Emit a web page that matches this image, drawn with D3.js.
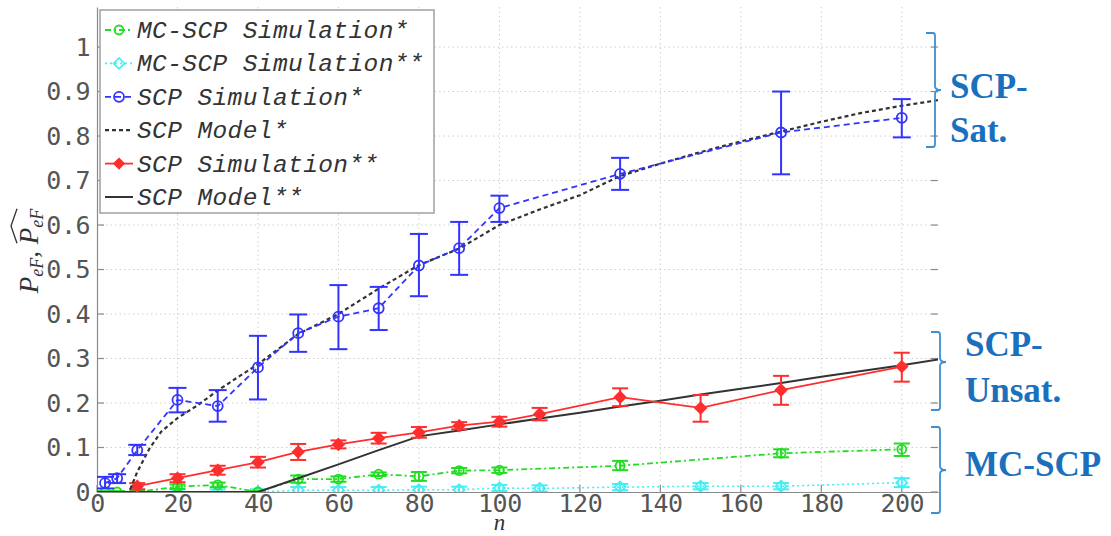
<!DOCTYPE html>
<html>
<head>
<meta charset="utf-8">
<script src="https://cdn.jsdelivr.net/npm/d3@7"></script>
<style>
  html, body { margin: 0; padding: 0; background: #fff; }
  svg { display: block; }
</style>
</head>
<body>
<svg id="chart" width="1111" height="536"></svg>
<script>
// ---- data ----
const xTicks = [0, 20, 40, 60, 80, 100, 120, 140, 160, 180, 200];
const yTicks = [0, 0.1, 0.2, 0.3, 0.4, 0.5, 0.6, 0.7, 0.8, 0.9, 1];
const yTickLabels = ["0", "0.1", "0.2", "0.3", "0.4", "0.5", "0.6", "0.7", "0.8", "0.9", "1"];

// MC-SCP Simulation*
const mcSatN  = [2, 5, 10, 20, 30, 40, 50, 60, 70, 80, 90, 100, 130, 170, 200];
const mcSatV  = [0, 0, 0, 0.012, 0.016, 0, 0.029, 0.029, 0.040, 0.035, 0.048, 0.049, 0.059, 0.087, 0.096];
const mcSatLo = [0, 0, 0, 0.007, 0.011, 0, 0.021, 0.023, 0.036, 0.025, 0.042, 0.043, 0.049, 0.078, 0.081];
const mcSatHi = [0.002, 0.002, 0.002, 0.017, 0.021, 0.002, 0.037, 0.035, 0.044, 0.045, 0.054, 0.055, 0.070, 0.096, 0.109];

// MC-SCP Simulation**
const mcUnsN  = [10, 20, 30, 40, 50, 60, 70, 80, 90, 100, 110, 130, 150, 170, 200];
const mcUnsV  = [0, 0, 0, 0, 0.004, 0.004, 0.004, 0.005, 0.005, 0.009, 0.008, 0.011, 0.013, 0.013, 0.021];
const mcUnsLo = [-0.006, -0.006, -0.006, -0.006, -0.003, -0.003, -0.003, -0.002, -0.002, 0.002, 0.001, 0.004, 0.006, 0.006, 0.011];
const mcUnsHi = [0.006, 0.006, 0.006, 0.006, 0.011, 0.011, 0.011, 0.012, 0.012, 0.016, 0.015, 0.018, 0.020, 0.020, 0.031];

// SCP Simulation*
const scpSatN  = [2, 5, 10, 20, 30, 40, 50, 60, 70, 80, 90, 100, 130, 170, 200];
const scpSatV  = [0.020, 0.031, 0.094, 0.207, 0.193, 0.280, 0.357, 0.394, 0.413, 0.509, 0.548, 0.638, 0.715, 0.808, 0.841];
const scpSatLo = [0.008, 0.020, 0.083, 0.179, 0.158, 0.208, 0.315, 0.321, 0.364, 0.440, 0.488, 0.607, 0.679, 0.714, 0.797];
const scpSatHi = [0.034, 0.040, 0.106, 0.234, 0.229, 0.351, 0.399, 0.465, 0.461, 0.580, 0.607, 0.666, 0.751, 0.900, 0.883];

// SCP Model*
const modelSatN = [0, 8, 10, 13, 16, 20, 25, 30, 35, 40, 50, 60, 70, 80, 90, 100, 110, 120, 130, 140, 150, 160, 170, 180, 190, 200, 210];
const modelSatV = [0, 0, 0.045, 0.097, 0.136, 0.166, 0.195, 0.228, 0.258, 0.287, 0.355, 0.400, 0.457, 0.510, 0.547, 0.600, 0.635, 0.667, 0.710, 0.738, 0.764, 0.788, 0.810, 0.832, 0.852, 0.868, 0.882];

// SCP Simulation**
const scpUnsN  = [10, 20, 30, 40, 50, 60, 70, 80, 90, 100, 110, 130, 150, 170, 200];
const scpUnsV  = [0.013, 0.031, 0.049, 0.067, 0.090, 0.107, 0.121, 0.134, 0.149, 0.158, 0.175, 0.213, 0.189, 0.229, 0.282];
const scpUnsLo = [0.006, 0.022, 0.039, 0.055, 0.072, 0.098, 0.109, 0.122, 0.141, 0.147, 0.161, 0.193, 0.158, 0.196, 0.248];
const scpUnsHi = [0.020, 0.040, 0.059, 0.079, 0.108, 0.116, 0.133, 0.146, 0.157, 0.169, 0.189, 0.233, 0.218, 0.261, 0.313];

// SCP Model**
const modelUnsN = [0, 10, 20, 30, 40, 50, 60, 70, 80, 90, 100, 110, 120, 130, 140, 150, 160, 170, 180, 190, 200, 210];
const modelUnsV = [0, 0, 0, 0, 0, 0.031, 0.062, 0.094, 0.125, 0.138, 0.152, 0.165, 0.178, 0.192, 0.205, 0.219, 0.232, 0.245, 0.259, 0.272, 0.285, 0.299];

const legendLabels = ["MC-SCP Simulation*", "MC-SCP Simulation**", "SCP Simulation*", "SCP Model*", "SCP Simulation**", "SCP Model**"];
const bracketLabels = [["SCP-", "Sat."], ["SCP-", "Unsat."], ["MC-SCP"]];

// ---- layout ----
const svg = d3.select("#chart");
const plot = { left: 97, right: 938, top: 7, bottom: 492 };
const x = d3.scaleLinear().domain([0, 209]).range([plot.left, plot.right]);
const y = d3.scaleLinear().domain([0, 1.09]).range([plot.bottom, plot.top]);

const C = {
  green: "#22dd22",
  cyan: "#44eef4",
  blue: "#3333ff",
  red: "#ff2e2e",
  dark: "#333333",
  axis: "#8a8a8a",
  grid: "#cfcfcf",
  tick: "#555555",
  note: "#1a70bd",
  bracket: "#3d8fd2"
};

svg.append("defs").append("clipPath").attr("id", "plotclip")
  .append("rect")
  .attr("x", plot.left).attr("y", plot.top)
  .attr("width", plot.right - plot.left).attr("height", plot.bottom - plot.top);

// grid
const grid = svg.append("g");
grid.selectAll("line.gx").data(xTicks.slice(1)).join("line")
  .attr("x1", d => x(d)).attr("x2", d => x(d))
  .attr("y1", plot.top).attr("y2", plot.bottom)
  .attr("stroke", C.grid).attr("stroke-width", 1).attr("stroke-dasharray", "1.5,3");
grid.selectAll("line.gy").data(yTicks.slice(1)).join("line")
  .attr("x1", plot.left).attr("x2", plot.right)
  .attr("y1", d => y(d)).attr("y2", d => y(d))
  .attr("stroke", C.grid).attr("stroke-width", 1).attr("stroke-dasharray", "1.5,3");

// axes
const xAxis = d3.axisBottom(x).tickValues(xTicks).tickSize(0).tickPadding(5).tickFormat(d3.format("d"));
const gx = svg.append("g").attr("transform", `translate(0,${plot.bottom})`).call(xAxis);
gx.select(".domain").attr("stroke", C.axis).attr("stroke-width", 1.2);
gx.selectAll("text").attr("font-family", "DejaVu Sans Mono").attr("font-size", 25)
  .attr("fill", C.tick).attr("dy", "0.6em").attr("letter-spacing", "-0.5");

const yAxis = d3.axisLeft(y).tickValues(yTicks).tickSize(0).tickPadding(7).tickFormat((d, i) => yTickLabels[i]);
const gy = svg.append("g").attr("transform", `translate(${plot.left},0)`).call(yAxis);
gy.select(".domain").attr("stroke", C.axis).attr("stroke-width", 1.2);
gy.selectAll("text").attr("font-family", "DejaVu Sans Mono").attr("font-size", 25)
  .attr("fill", C.tick).attr("letter-spacing", "-0.5");

// inward tick marks on all sides
const tk = svg.append("g").attr("stroke", C.axis).attr("stroke-width", 1.2);
tk.selectAll("line.yl").data(yTicks).join("line")
  .attr("x1", plot.left).attr("x2", plot.left + 7)
  .attr("y1", d => y(d)).attr("y2", d => y(d));
tk.selectAll("line.yr").data(yTicks).join("line")
  .attr("x1", plot.right - 7).attr("x2", plot.right)
  .attr("y1", d => y(d)).attr("y2", d => y(d));
tk.selectAll("line.xb").data(xTicks).join("line")
  .attr("x1", d => x(d)).attr("x2", d => x(d))
  .attr("y1", plot.bottom).attr("y2", plot.bottom - 7);

// axis titles
svg.append("text")
  .attr("x", x(100)).attr("y", 530)
  .attr("text-anchor", "middle")
  .attr("font-family", "Liberation Serif").attr("font-style", "italic")
  .attr("font-size", 23).attr("fill", C.dark)
  .text("n");

const yl = svg.append("g").attr("transform", "translate(38,251) rotate(-90)");
const ylText = yl.append("text")
  .attr("text-anchor", "middle")
  .attr("font-family", "Liberation Serif").attr("font-style", "italic")
  .attr("font-size", 27).attr("fill", C.dark);
ylText.append("tspan").text("P");
ylText.append("tspan").attr("font-size", 18).attr("dy", 5).text("eF");
ylText.append("tspan").attr("dy", -5).text(", ");
ylText.append("tspan").text("P");
ylText.append("tspan").attr("font-size", 18).attr("dy", 5).text("eF");
// wide hat over the estimate symbol
{
  const n0 = ylText.node();
  const chars = n0.getNumberOfChars();
  const s = n0.getStartPositionOfChar(chars - 3);
  const e = n0.getEndPositionOfChar(chars - 1);
  const hx0 = s.x + 1, hx1 = e.x;
  const mid = (hx0 + hx1) / 2;
  yl.append("path")
    .attr("d", `M${hx0},-21 L${mid},-27 L${hx1},-21`)
    .attr("fill", "none").attr("stroke", C.dark).attr("stroke-width", 1.3);
}

// ---- marks ----
const marks = svg.append("g").attr("clip-path", "url(#plotclip)");
const lineGen = d3.line().x(d => x(d[0])).y(d => y(d[1]));
const zip = (a, b) => a.map((v, i) => [v, b[i]]);

function diamondPath(r) {
  return `M0,${-r} L${r},0 L0,${r} L${-r},0 Z`;
}

function drawSeries(g, opt) {
  const pts = zip(opt.n, opt.v);
  g.append("path").datum(pts).attr("d", lineGen)
    .attr("fill", "none").attr("stroke", opt.color)
    .attr("stroke-width", opt.width || 1.8)
    .attr("stroke-dasharray", opt.dash || null);
  if (opt.lo) {
    const eb = g.append("g").attr("stroke", opt.color).attr("stroke-width", opt.ebWidth || 2);
    const cw = opt.cap || 8;
    opt.n.forEach((n, i) => {
      const cx = x(n), y0 = y(opt.lo[i]), y1 = y(opt.hi[i]);
      eb.append("line").attr("x1", cx).attr("x2", cx).attr("y1", y0).attr("y2", y1);
      eb.append("line").attr("x1", cx - cw).attr("x2", cx + cw).attr("y1", y0).attr("y2", y0);
      eb.append("line").attr("x1", cx - cw).attr("x2", cx + cw).attr("y1", y1).attr("y2", y1);
    });
  }
  if (opt.marker) {
    const mg = g.append("g");
    pts.forEach(p => {
      const t = `translate(${x(p[0])},${y(p[1])})`;
      if (opt.marker === "circle") {
        mg.append("circle").attr("transform", t).attr("r", opt.r || 4.5)
          .attr("fill", "none").attr("stroke", opt.color).attr("stroke-width", 1.8);
      } else {
        mg.append("path").attr("transform", t).attr("d", diamondPath(opt.r || 5.5))
          .attr("fill", opt.fill || "none").attr("stroke", opt.color).attr("stroke-width", 1.8);
      }
    });
  }
}

const series = [
  { n: mcUnsN, v: mcUnsV, lo: mcUnsLo, hi: mcUnsHi, color: C.cyan, dash: "2,3", marker: "diamond", r: 5.5, cap: 8, width: 1.6 },
  { n: mcSatN, v: mcSatV, lo: mcSatLo, hi: mcSatHi, color: C.green, dash: "6,3,2,3", marker: "circle", r: 4.5, cap: 8 },
  { n: modelUnsN, v: modelUnsV, color: C.dark, width: 2 },
  { n: scpUnsN, v: scpUnsV, lo: scpUnsLo, hi: scpUnsHi, color: C.red, marker: "diamond", fill: C.red, r: 5.5, cap: 8 },
  { n: modelSatN, v: modelSatV, color: C.dark, dash: "4,3", width: 2.2 },
  { n: scpSatN, v: scpSatV, lo: scpSatLo, hi: scpSatHi, color: C.blue, dash: "6,4", marker: "circle", r: 5, cap: 9 }
];
series.forEach(s => drawSeries(marks, s));

// ---- legend ----
const lg = svg.append("g");
lg.append("rect").attr("x", 100).attr("y", 10).attr("width", 334).attr("height", 203)
  .attr("fill", "#fff").attr("stroke", "#a0a0a0").attr("stroke-width", 1.5);
const legendStyles = [
  { color: C.green, dash: "6,3,2,3", marker: "circle", r: 4.5 },
  { color: C.cyan, dash: "2,3", marker: "diamond", r: 5.5 },
  { color: C.blue, dash: "6,4", marker: "circle", r: 5 },
  { color: C.dark, dash: "4,3", width: 2.2 },
  { color: C.red, marker: "diamond", fill: C.red, r: 5 },
  { color: C.dark, width: 2 }
];
legendLabels.forEach((label, i) => {
  const cy = 30 + i * 33.4;
  const row = lg.append("g");
  const st = legendStyles[i];
  row.append("line").attr("x1", 105).attr("x2", 133).attr("y1", cy).attr("y2", cy)
    .attr("stroke", st.color).attr("stroke-width", st.width || 1.8)
    .attr("stroke-dasharray", st.dash || null);
  if (st.marker === "circle") {
    row.append("circle").attr("cx", 119).attr("cy", cy).attr("r", st.r)
      .attr("fill", "none").attr("stroke", st.color).attr("stroke-width", 1.8);
  } else if (st.marker === "diamond") {
    row.append("path").attr("transform", `translate(119,${cy})`).attr("d", diamondPath(st.r))
      .attr("fill", st.fill || "none").attr("stroke", st.color).attr("stroke-width", 1.6);
  }
  row.append("text").attr("x", 137).attr("y", cy + 8)
    .attr("font-family", "Liberation Mono").attr("font-style", "italic")
    .attr("font-size", 24.5).attr("fill", "#333").attr("letter-spacing", "0.4")
    .text(label);
});

// ---- group brackets and notes on the right ----
const notes = svg.append("g");
function bracket(xb, top, bottom, mid, hook, notch) {
  return `M${xb - hook},${top} L${xb - 2},${top} Q${xb},${top} ${xb},${top + 3}` +
         ` L${xb},${mid - 4} Q${xb},${mid} ${xb + notch},${mid} Q${xb},${mid} ${xb},${mid + 4}` +
         ` L${xb},${bottom - 3} Q${xb},${bottom} ${xb - 2},${bottom} L${xb - hook},${bottom}`;
}
const brackets = [
  { xb: 935, top: 33, bottom: 147, mid: 90, tx: 950, lines: bracketLabels[0], ty: [98, 142] },
  { xb: 940, top: 332, bottom: 410, mid: 362, tx: 965, lines: bracketLabels[1], ty: [356, 402] },
  { xb: 940, top: 427, bottom: 513, mid: 470, tx: 965, lines: bracketLabels[2], ty: [476] }
];
brackets.forEach(b => {
  notes.append("path").attr("d", bracket(b.xb, b.top, b.bottom, b.mid, 9, 6))
    .attr("fill", "none").attr("stroke", C.bracket).attr("stroke-width", 1.8);
  b.lines.forEach((t, i) => {
    notes.append("text").attr("x", b.tx).attr("y", b.ty[i])
      .attr("font-family", "Liberation Serif").attr("font-weight", "bold")
      .attr("font-size", 35).attr("fill", C.note).text(t);
  });
});
</script>
</body>
</html>
